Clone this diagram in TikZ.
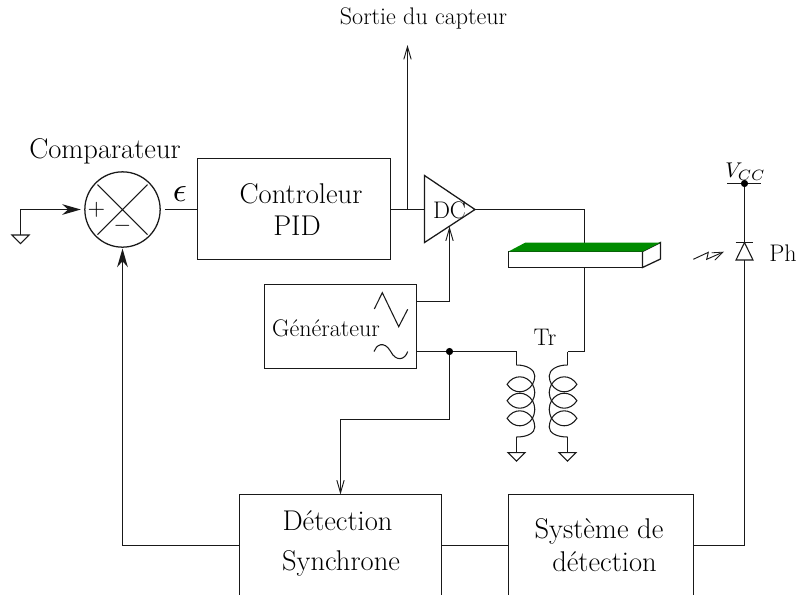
\documentclass[tikz,border=0pt]{standalone}
\usetikzlibrary{arrows.meta,calc}
\definecolor{beamgreen}{RGB}{0,139,0}
\newcommand{\bigf}{\fontsize{21.4}{25}\selectfont}
\newcommand{\smallf}{\fontsize{18}{22}\selectfont}
\tikzset{
  wire/.style={line width=0.95pt,draw=black!90},
  thinwire/.style={line width=0.8pt,draw=black!90},
  blockbox/.style={draw=black!90,line width=0.95pt,rectangle,inner sep=0pt,outer sep=0pt},
  bigtext/.style={inner sep=0pt,font=\bigf},
  smalltext/.style={inner sep=0pt,font=\smallf},
  mathtext/.style={inner sep=0pt,scale=1.7},
  opentip/.style={-{Straight Barb[length=9.5pt,width=5.5pt,line width=0.7pt]}},
  filltip/.style={-{Stealth[length=14pt,width=8pt,inset=4.5pt]}},
  dotnode/.style={circle,fill=black,inner sep=0pt,minimum size=5.4pt},
  gnd/.pic={\draw[thinwire,fill=white] (-8.5,0) -- (8.5,0) -- (0,8.5) -- cycle;},
  coil/.pic={
    \draw[thinwire] (0,0) .. controls (11,0) and (18.3,5) .. (18.3,11)
      .. controls (18.3,14) and (17.3,17) .. (16,19.3)
      .. controls (17.2,22) and (18.3,24) .. (18.3,27.5) .. controls (18.3,31) and (17.2,33) .. (16,35.7)
      .. controls (17.2,38) and (18.3,41) .. (18.3,44.5) .. controls (18.3,48) and (17.2,50.5) .. (16,53.3)
      .. controls (17.3,56) and (18.3,59) .. (18.3,62) .. controls (18.3,68) and (11,72) .. (0,72);
    \foreach \c in {19.3,35.7,53.3}{
      \draw[thinwire] (-9.4,\c) .. controls (-3,\c-10) and (9.5,\c-10) .. (16,\c)
        .. controls (9.5,\c+10) and (-3,\c+10) .. cycle;
    }
  }
}
\begin{document}
\begin{tikzpicture}[x=0.75pt,y=-0.75pt]
\useasboundingbox (0,0) rectangle (796,594);
\clip (0,0) rectangle (796,594);
% blocks
\node[blockbox,minimum width=144.75pt,minimum height=75.75pt] (pid) at (294,209) {};
\node[blockbox,minimum width=114pt,minimum height=63pt] (gen) at (340.5,326.5) {};
\node[blockbox,minimum width=151.5pt,minimum height=76.5pt] (syn) at (340.5,545.5) {};
\node[blockbox,minimum width=138.75pt,minimum height=76.5pt] (sys) at (601,545.5) {};
\node[draw=black!90,line width=0.95pt,circle,inner sep=0pt,outer sep=0pt,minimum size=56.5pt] (cmp) at (122.5,209.5) {};
% comparator
\coordinate (xa) at (97.5,184.5); \coordinate (xb) at (147.5,234.5);
\coordinate (xc) at (147.5,184.5); \coordinate (xd) at (97.5,234.5);
\draw[thinwire] (xa) -- (xb) (xc) -- (xd);
\node[bigtext] (cmpl) at (105,151) {Comparateur};
\node[mathtext] (plus) at (96.5,209.5) {$+$};
\node[mathtext] (minus) at (122.5,226) {$-$};
\node[inner sep=0pt,scale=2.6] (eps) at (180,194.5) {$\epsilon$};
% labels
\node[bigtext] (pida) at (301,194) {Controleur};
\node[bigtext] (pidb) at (297,226) {PID};
\node[smalltext] (genl) at (326,328) {Générateur};
\node[bigtext] (syna) at (337.5,520.5) {Détection};
\node[bigtext] (synb) at (341,563) {Synchrone};
\node[bigtext] (sysa) at (599,531) {Système de};
\node[bigtext] (sysb) at (604.5,562) {détection};
\node[smalltext] (sortie) at (423.5,18.5) {Sortie du capteur};
\node[smalltext] (tr) at (545,337) {Tr};
\node[smalltext] (ph) at (783,253) {Ph};
% amplifier
\coordinate (dct) at (424.5,175.5); \coordinate (dcb) at (424.5,242.5); \coordinate (dctip) at (475,209.5);
\draw[wire,line join=miter] (dct) -- (dctip) -- (dcb) -- cycle;
\node[smalltext] (dcl) at (449.5,210) {DC};
\coordinate (dcin) at (424.5,209.5);
\coordinate (dcctl) at (449.5,226.5);
% input
\coordinate (g0) at (20.5,235);
\draw[wire,filltip] (g0) |- ([xshift=-3pt]cmp.west);
\pic at (g0) {gnd};
% forward path
\draw[wire] ([xshift=3.5pt]cmp.east) -- (cmp.east -| pid.west);
\draw[wire] (dcin -| pid.east) -- (dcin);
\coordinate (tap) at (407.5,209.5);
\coordinate (sortiea) at (407.5,45);
\draw[wire,opentip] (tap) -- (sortiea);
% amplifier output to transformer
\coordinate (cr) at (584.5,351.5);
\draw[wire] (dctip) -| (cr);
% beam
\coordinate (b1) at (508.5,251.5); \coordinate (b2) at (642.5,251.5);
\coordinate (b3) at (660.5,242.5); \coordinate (b4) at (525.5,242.5);
\coordinate (b5) at (508.5,267.5); \coordinate (b6) at (642.5,267.5);
\coordinate (b7) at (660.5,259);
\draw[wire,fill=white] (b1) -- (b2) -- (b6) -- (b5) -- cycle;
\draw[wire,fill=white] (b2) -- (b3) -- (b7) -- (b6) -- cycle;
\fill[beamgreen] (b1) -- (b2) -- (b3) -- (b4) -- cycle;
% generator
\draw[thinwire] (374.3,309) -- (382.3,292.7) -- (398.7,326.7) -- (407.7,309.3);
\draw[thinwire] (374,351.5) .. controls (376,345) and (384,340) .. (390.7,351.5) .. controls (396,362) and (405,360) .. (407.7,351.5);
\coordinate (gena) at (416.5,301.5);
\draw[wire,opentip] (gena) -| (dcctl);
\coordinate (genb) at (416.5,351.5);
\coordinate (cl) at (516.5,351.5);
\node[dotnode] (jn) at (449.5,351.5) {};
\draw[wire] (genb) -- (jn) -- (cl);
\coordinate (j1) at (449.5,419.5);
\coordinate (j2) at (340.5,419.5);
\draw[wire,opentip] (jn) -- (j1) -- (j2) -- (syn.north -| j2);
% transformer
\coordinate (cl2) at (567.5,351.5);
\draw[wire] (cr) -- (cl2);
\coordinate (cltop) at (516.5,365); \coordinate (clbot) at (516.5,437); \coordinate (clg) at (516.5,452.7);
\coordinate (crtop) at (567.5,365); \coordinate (crbot) at (567.5,437); \coordinate (crg) at (567.5,452.7);
\draw[thinwire] (cl) -- (cltop) (clbot) -- (clg);
\draw[thinwire] (cl2) -- (crtop) (crbot) -- (crg);
\pic at (cltop) {coil};
\pic[xscale=-1] at (crtop) {coil};
\pic at (clg) {gnd};
\pic at (crg) {gnd};
% photodiode
\node[inner sep=0pt,scale=1.6] (vcc) at (745.5,171.5) {$V_{CC}$};
\coordinate (vl) at (727,183.5); \coordinate (vr) at (761,183.5); \coordinate (v0) at (744.5,183.5);
\draw[wire] (vl) -- (vr);
\node[dotnode] (vdot) at (v0) {};
\coordinate (da) at (744.5,242.5); \coordinate (db) at (744.5,260);
\draw[wire] (vdot) -- (da);
\draw[thinwire] (735.5,242.5) -- (753,242.5);
\draw[thinwire] (da) -- (736,260) -- (753,260) -- cycle;
\coordinate (dc2) at (744.5,545.5);
\draw[wire] (sys.east) -- (dc2) -- (db);
\draw[thinwire,line width=0.7pt,-{Straight Barb[length=8pt,width=6pt,line width=0.6pt]}] (693.3,259.3) -- (708.3,252.3) -- (706.7,259.3) -- (724,251.7);
% bottom links
\draw[wire] (sys.west) -- (syn.east);
\coordinate (fb) at (122.5,545.5);
\draw[wire,filltip] (syn.west) -- (fb) -- ([yshift=-1pt]cmp.south);
\end{tikzpicture}
\end{document}
